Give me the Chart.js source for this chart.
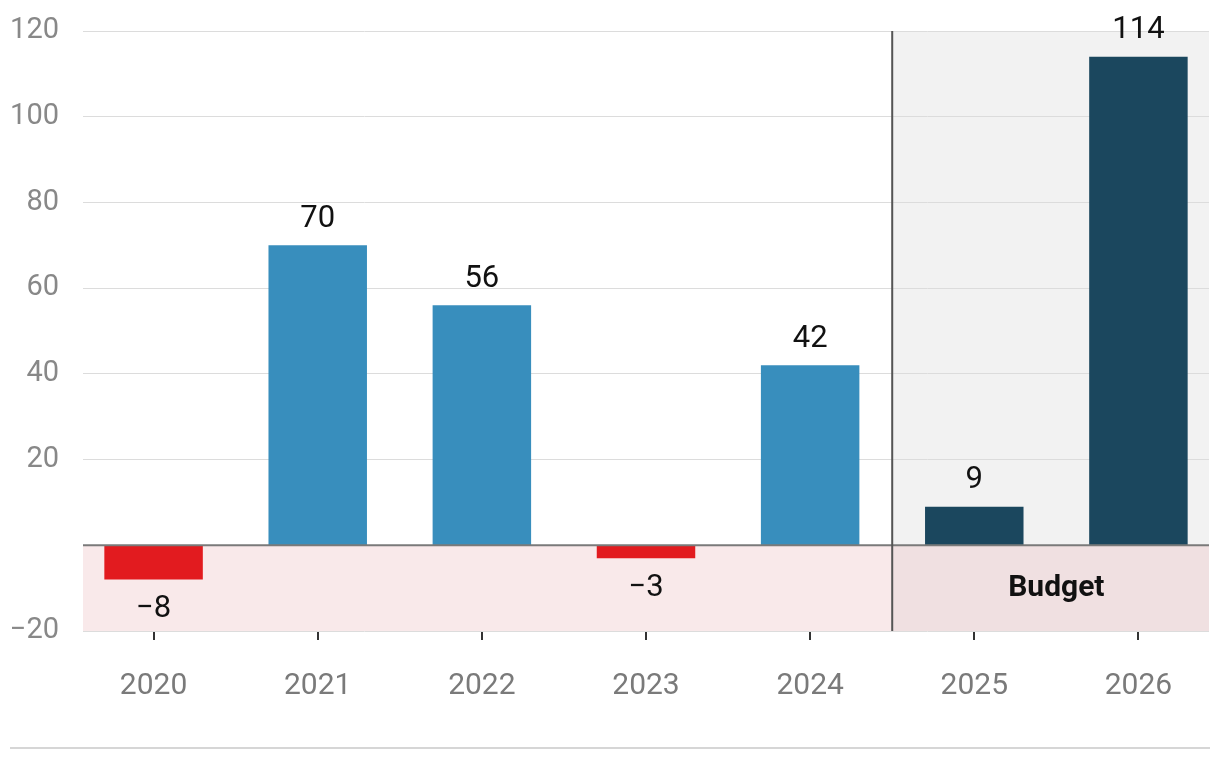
<!DOCTYPE html>
<html>
<head>
<meta charset="utf-8">
<script src="https://cdn.jsdelivr.net/npm/chart.js@4"></script>
<style>
  html, body { margin: 0; padding: 0; background: #fff; }
  #wrap { width: 1220px; height: 760px; position: relative; }
</style>
</head>
<body>
<div id="wrap"><canvas id="myChart" width="1220" height="760"></canvas></div>
<script>
var years = ["2020", "2021", "2022", "2023", "2024", "2025", "2026"];
var values = [-8, 70, 56, -3, 42, 9, 114];
var budgetFrom = 5; // index of first budget year
var yTicks = [-20, 20, 40, 60, 80, 100, 120];

var FONT = "Roboto, 'Open Sans', sans-serif";

function barColor(v, i) {
  if (i >= budgetFrom) return "#1b475e";
  return v < 0 ? "#e21b1f" : "#388ebd";
}

// backgrounds, divider, value labels
const decor = {
  id: "decor",
  beforeDraw(chart) {
    const { ctx, chartArea: a, scales: { x, y } } = chart;
    const zero = y.getPixelForValue(0);
    const split = x.getPixelForValue(budgetFrom - 0.5);
    ctx.save();
    ctx.fillStyle = "#f9e9ea";
    ctx.fillRect(a.left, zero, a.right - a.left, a.bottom - zero);
    ctx.fillStyle = "#f2f2f2";
    ctx.fillRect(split, a.top, a.right - split, zero - a.top);
    ctx.fillStyle = "#f0e0e1";
    ctx.fillRect(split, zero, a.right - split, a.bottom - zero);
    ctx.restore();
  },
  afterDatasetsDraw(chart) {
    const { ctx, chartArea: a, scales: { x, y } } = chart;
    const split = x.getPixelForValue(budgetFrom - 0.5);
    ctx.save();
    // zero line
    const zero = y.getPixelForValue(0);
    ctx.strokeStyle = "#7a7a7a";
    ctx.lineWidth = 2;
    ctx.beginPath();
    ctx.moveTo(a.left, zero);
    ctx.lineTo(a.right, zero);
    ctx.stroke();
    // divider
    ctx.strokeStyle = "#555";
    ctx.lineWidth = 2;
    ctx.beginPath();
    ctx.moveTo(split, a.top);
    ctx.lineTo(split, a.bottom);
    ctx.stroke();
    // value labels
    ctx.fillStyle = "#111";
    ctx.font = "31px " + FONT;
    ctx.textAlign = "center";
    ctx.textBaseline = "middle";
    values.forEach((v, i) => {
      const px = x.getPixelForValue(i);
      const py = y.getPixelForValue(v);
      const label = v < 0 ? "\u2212" + Math.abs(v) : String(v);
      ctx.fillText(label, px, v < 0 ? py + 30 : py - 26);
    });
    // budget label
    ctx.font = "bold 30px " + FONT;
    ctx.fillText("Budget", x.getPixelForValue((budgetFrom + years.length - 1) / 2), y.getPixelForValue(-10));
    // bottom rule
    ctx.strokeStyle = "#d6d6d6";
    ctx.lineWidth = 2;
    ctx.beginPath();
    ctx.moveTo(10, 748);
    ctx.lineTo(1210, 748);
    ctx.stroke();
    ctx.restore();
  }
};

const ctx = document.getElementById("myChart").getContext("2d");
const myChart = new Chart(ctx, {
  type: "bar",
  data: {
    datasets: [
      {
        data: values.map((v, i) => ({ x: i, y: v })),
        backgroundColor: values.map(barColor),
        borderWidth: 0,
        barPercentage: 0.6,
        categoryPercentage: 1,
      },
    ],
  },
  options: {
    responsive: false,
    animation: false,
    layout: { padding: { left: 0, right: 11, top: 31, bottom: 0 } },
    plugins: { legend: { display: false }, tooltip: { enabled: false } },
    scales: {
      x: {
        type: "linear",
        offset: false,
        min: -0.43,
        max: years.length - 1 + 0.43,
        afterBuildTicks: (axis) => {
          axis.ticks = years.map((_, i) => ({ value: i }));
        },
        afterFit: (axis) => { axis.height = 129; },
        border: { display: false },
        grid: { offset: false, drawOnChartArea: false, drawTicks: true, tickLength: 9, color: "#333", lineWidth: 2 },
        ticks: {
          autoSkip: false,
          maxRotation: 0,
          padding: 28,
          color: "#7a7a7a",
          font: { family: FONT, size: 30 },
          callback: (v) => years[v],
        },
      },
      y: {
        min: -20,
        max: 120,
        afterBuildTicks: (axis) => {
          axis.ticks = yTicks.map((v) => ({ value: v }));
        },
        afterFit: (axis) => { axis.width = 83; },
        border: { display: false },
        grid: {
          drawTicks: true,
          tickLength: 24,
          tickColor: "rgba(0,0,0,0)",
          color: "#dcdcdc",
          lineWidth: 1,
        },
        ticks: {
          padding: 0,
          color: "#888",
          font: { family: FONT, size: 29 },
          callback: (v) => (v < 0 ? "\u2212" + Math.abs(v) : v),
        },
      },
    },
  },
  plugins: [decor],
});
</script>
</body>
</html>
